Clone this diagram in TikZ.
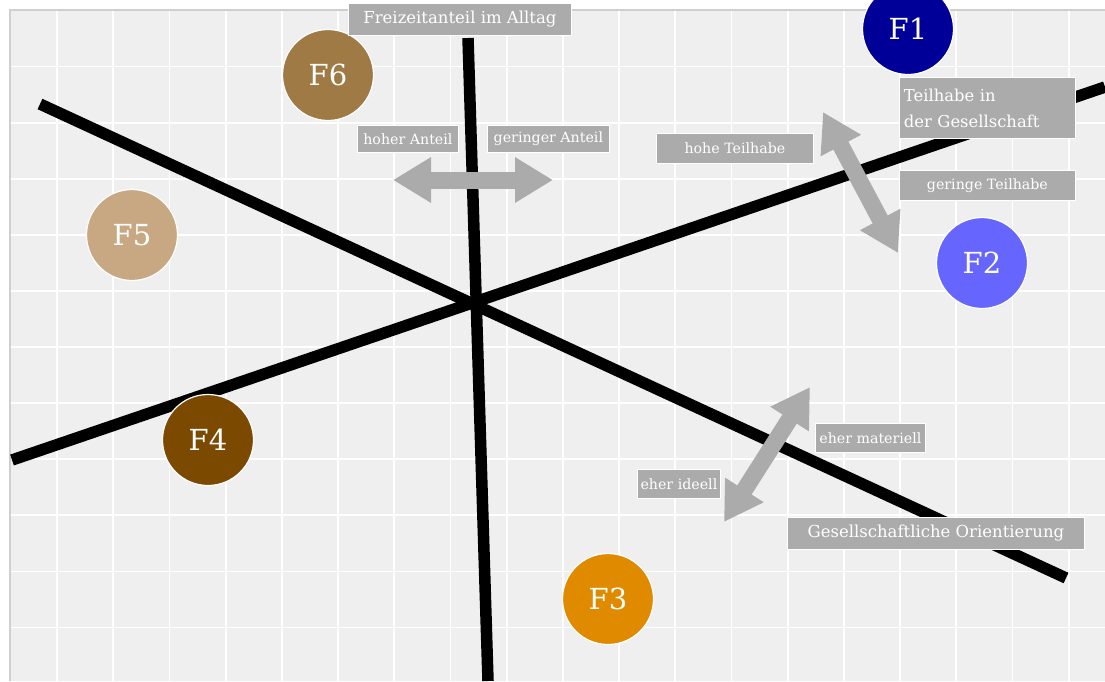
\documentclass[tikz,border=0pt]{standalone}
\usepackage{fontspec}
\setmainfont{DejaVu Serif}
\usetikzlibrary{arrows.meta}
\definecolor{bg}{HTML}{EFEFEF}
\definecolor{frame}{HTML}{CFCFCF}
\definecolor{boxgray}{HTML}{ABABAB}
\definecolor{cFa}{HTML}{000099}
\definecolor{cFb}{HTML}{6666FF}
\definecolor{cFc}{HTML}{E08A00}
\definecolor{cFd}{HTML}{7B4A00}
\definecolor{cFe}{HTML}{C8A882}
\definecolor{cFf}{HTML}{A07A45}
\tikzset{
  axisline/.style={line width=11.5pt, black},
  gridline/.style={white, line width=1.8pt},
  fcircle/.style={circle, minimum size=91pt, inner sep=0pt, draw=white, line width=1.2pt, text=white, font=\fontsize{29}{31}\selectfont},
  lbl/.style={fill=boxgray, draw=white, line width=0.8pt, text=white, inner sep=0pt, anchor=north west},
  small/.style={font=\fontsize{14.2}{16}\selectfont},
  fatarrow/.style={boxgray, line width=17pt, {Triangle[width=43pt,length=38pt]}-{Triangle[width=43pt,length=38pt]}},
}
\begin{document}
\begin{tikzpicture}[x=1pt,y=-1pt]
\useasboundingbox (0,0) rectangle (1105,681);
\fill[white] (0,0) rectangle (1105,681);
\fill[bg] (10,10) rectangle (1105,681);
% grid
\foreach \k in {0,...,18} \draw[gridline] ({57+56.2*\k},10) -- ({57+56.2*\k},681);
\foreach \k in {0,...,10} \draw[gridline] (10,{66.5+56.1*\k}) -- (1105,{66.5+56.1*\k});
\draw[frame, line width=1.2pt] (10,681) -- (10,10) -- (1105,10);
% axes
\coordinate (aTop) at (468,38);
\coordinate (aBot) at (488,681);
\coordinate (bA) at (40,104);
\coordinate (bB) at (1066,578);
\coordinate (cA) at (12,460);
\coordinate (cB) at (1105,87);
\draw[axisline] (aTop) -- (aBot);
\draw[axisline] (bA) -- (bB);
\draw[axisline] (cA) -- (cB);
% circles
\node[fcircle, fill=cFa] (F1) at (908,29) {F1};
\node[fcircle, fill=cFb] (F2) at (982,263) {F2};
\node[fcircle, fill=cFc] (F3) at (608,599) {F3};
\node[fcircle, fill=cFd] (F4) at (208,440) {F4};
\node[fcircle, fill=cFe] (F5) at (132,235) {F5};
\node[fcircle, fill=cFf] (F6) at (328,75) {F6};
% double arrows
\coordinate (h1) at (393,180);
\coordinate (h2) at (553,180);
\coordinate (t1) at (823,112);
\coordinate (t2) at (898,253);
\coordinate (o1) at (810,387);
\coordinate (o2) at (724,522);
\draw[fatarrow] (h1) -- (h2);
\draw[fatarrow] (t1) -- (t2);
\draw[fatarrow] (o1) -- (o2);
% labels
\node[lbl, minimum width=223pt, minimum height=32pt, font=\fontsize{16.5}{18}\selectfont] (title) at (348,3) {Freizeitanteil im Alltag};
\node[lbl, small, minimum width=101pt, minimum height=27pt] (hoher) at (357,125) {hoher Anteil};
\node[lbl, small, minimum width=122pt, minimum height=27pt] (geringer) at (487,125) {geringer Anteil};
\node[lbl, small, minimum width=157pt, minimum height=30pt] (hoheT) at (656,133) {hohe Teilhabe};
\node[lbl, minimum width=176pt, minimum height=61pt, text width=167pt, align=left, inner xsep=4.5pt, font=\fontsize{16.4}{26}\selectfont] (teilhabe) at (899,77) {Teilhabe in\\der Gesellschaft};
\node[lbl, small, minimum width=176pt, minimum height=30pt] (geringeT) at (899,170) {geringe Teilhabe};
\node[lbl, small, minimum width=110pt, minimum height=29pt] (materiell) at (815,423) {eher materiell};
\node[lbl, small, minimum width=83pt, minimum height=29pt] (ideell) at (637,469) {eher ideell};
\node[lbl, minimum width=297pt, minimum height=32pt, font=\fontsize{16.5}{18}\selectfont] (orient) at (787,517) {Gesellschaftliche Orientierung};
\end{tikzpicture}
\end{document}
